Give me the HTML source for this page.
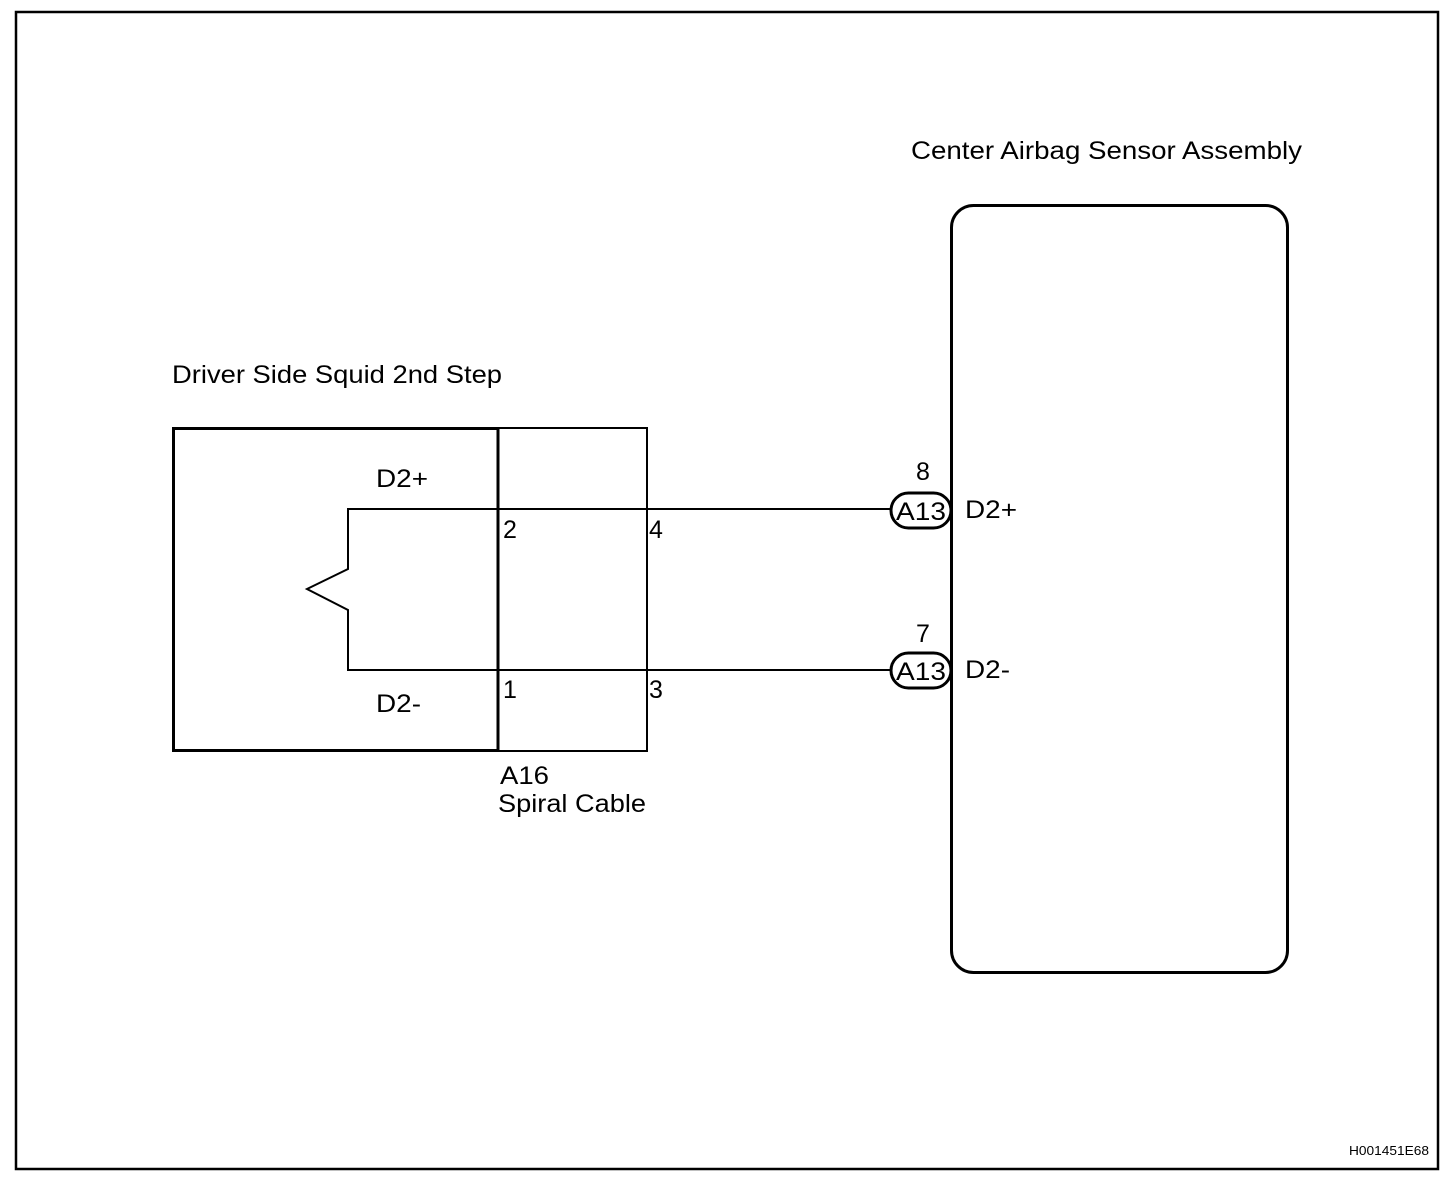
<!DOCTYPE html>
<html><head><meta charset="utf-8"><style>
html,body{margin:0;padding:0;background:#fff;}
svg{display:block;}
text{font-family:"Liberation Sans",Arial,sans-serif;fill:#000;}
</style></head><body>
<svg width="1456" height="1180" viewBox="0 0 1456 1180" xmlns="http://www.w3.org/2000/svg">
<rect x="16" y="12" width="1422" height="1157" fill="none" stroke="#000" stroke-width="2.5"/>
<text x="911" y="159" font-size="25" textLength="391" lengthAdjust="spacingAndGlyphs">Center Airbag Sensor Assembly</text>
<text x="172" y="383" font-size="25" textLength="330" lengthAdjust="spacingAndGlyphs">Driver Side Squid 2nd Step</text>
<rect x="951.5" y="205.5" width="336" height="767" rx="22" fill="none" stroke="#000" stroke-width="3"/>
<rect x="173.5" y="428.5" width="324.5" height="322" fill="none" stroke="#000" stroke-width="3"/>
<rect x="498" y="428" width="149" height="323" fill="none" stroke="#000" stroke-width="2"/>
<line x1="498" y1="428" x2="498" y2="751" stroke="#000" stroke-width="3"/>
<polyline points="891,509 348,509 348,569 307,589 348,610 348,670 891,670" fill="none" stroke="#000" stroke-width="2"/>
<rect x="891" y="493" width="60" height="35" rx="17.5" fill="#fff" stroke="#000" stroke-width="3"/>
<rect x="891" y="653" width="60" height="35" rx="17.5" fill="#fff" stroke="#000" stroke-width="3"/>
<text x="896" y="520" font-size="25" textLength="50" lengthAdjust="spacingAndGlyphs">A13</text>
<text x="896" y="680" font-size="25" textLength="50" lengthAdjust="spacingAndGlyphs">A13</text>
<text x="923" y="480" font-size="25" text-anchor="middle">8</text>
<text x="923" y="642" font-size="25" text-anchor="middle">7</text>
<text x="965" y="518" font-size="25" textLength="52" lengthAdjust="spacingAndGlyphs">D2+</text>
<text x="965" y="678" font-size="25" textLength="45" lengthAdjust="spacingAndGlyphs">D2-</text>
<text x="376" y="487" font-size="25" textLength="52" lengthAdjust="spacingAndGlyphs">D2+</text>
<text x="376" y="712" font-size="25" textLength="45" lengthAdjust="spacingAndGlyphs">D2-</text>
<text x="503" y="538" font-size="25">2</text>
<text x="649" y="538" font-size="25">4</text>
<text x="503" y="698" font-size="25">1</text>
<text x="649" y="698" font-size="25">3</text>
<text x="500" y="784" font-size="25" textLength="49" lengthAdjust="spacingAndGlyphs">A16</text>
<text x="498" y="812" font-size="25" textLength="148" lengthAdjust="spacingAndGlyphs">Spiral Cable</text>
<text x="1429" y="1155" font-size="13" text-anchor="end" textLength="80" lengthAdjust="spacingAndGlyphs">H001451E68</text>
</svg>
</body></html>
